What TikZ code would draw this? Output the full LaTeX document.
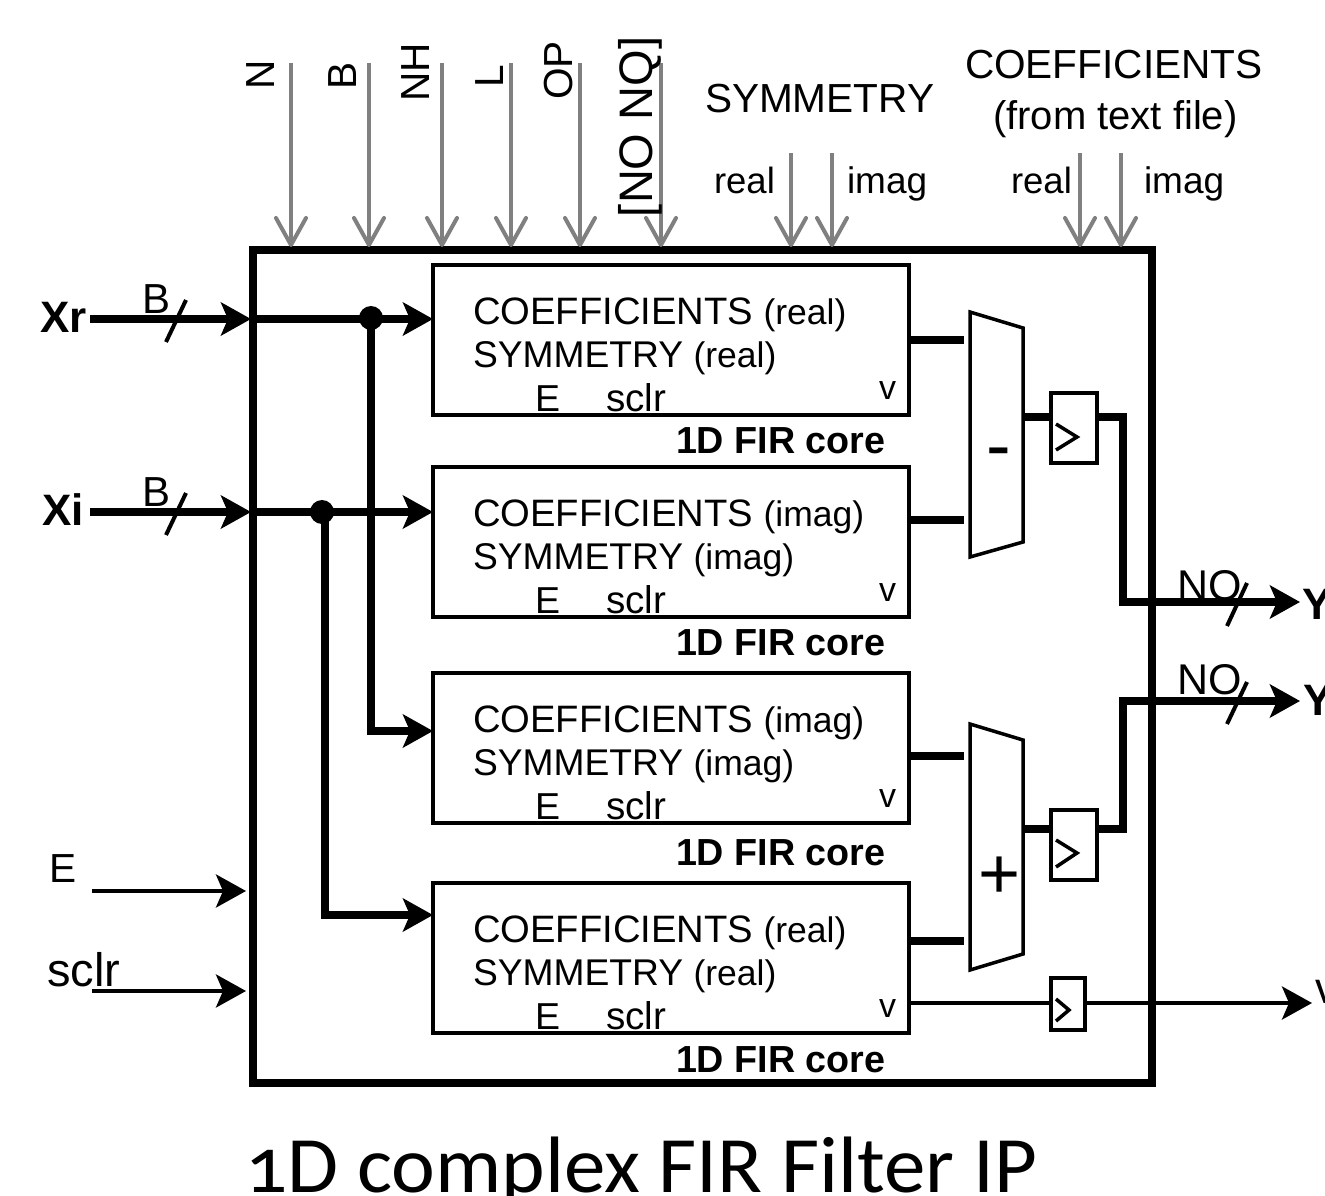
\documentclass[tikz,border=0pt]{standalone}
\usepackage{fontspec}
\setmainfont{Liberation Sans}
\newfontfamily\titlefont[Numbers=OldStyle,FakeStretch=1.037]{Carlito}
\usetikzlibrary{arrows.meta,calc}
\newcommand\sza{\fontsize{37.5}{40}\selectfont}
\newcommand\szb{\fontsize{40.6}{44}\selectfont}
\newcommand\szp{\fontsize{35.5}{40}\selectfont}
\tikzset{
  x=1pt,y=-1pt,
  bigtip/.tip={Stealth[length=30pt,width=33pt,inset=7pt]},
  coreblock/.style={draw=black,line width=3.5pt,minimum width=476pt,minimum height=150pt,inner sep=0pt,outer sep=0pt,rectangle},
  regblock/.style={draw=black,line width=3.5pt,inner sep=0pt,outer sep=0pt,rectangle},
  thinedge/.style={line width=3.5pt,draw=black},
  busedge/.style={line width=8pt,draw=black},
  bustip/.style={line width=8pt,draw=black,-{bigtip}},
  sigtip/.style={line width=4pt,draw=black,-{bigtip}},
  param/.style={line width=4pt,draw=black!50,-{Straight Barb[length=27pt,width=30pt,round]}},
  lab/.style={anchor=base west,inner sep=0pt,outer sep=0pt,font=\szb},
  corelab/.style={anchor=base west,inner sep=0pt,outer sep=0pt,font=\sza},
  vlab/.style={anchor=base west,inner sep=0pt,outer sep=0pt,font=\fontsize{34}{36}\selectfont},
  corename/.style={anchor=base west,inner sep=0pt,outer sep=0pt,font=\fontsize{37.7}{40}\selectfont\bfseries},
  sideparam/.style={anchor=base west,inner sep=0pt,outer sep=0pt,rotate=90,font=\szb},
  boldlab/.style={anchor=base west,inner sep=0pt,outer sep=0pt,font=\fontsize{44}{46}\selectfont\bfseries},
  junction/.style={circle,fill=black,draw=none,minimum size=24pt,inner sep=0pt,outer sep=0pt},
  tick/.style={line width=4pt,draw=black},
}
\begin{document}
\begin{tikzpicture}
\useasboundingbox (0,0) rectangle (1325,1196);
% outer block
\node[draw=black,line width=8pt,minimum width=899pt,minimum height=833pt,inner sep=0pt,outer sep=0pt,rectangle] (ip) at (702.5,666.5) {};
% FIR cores
\node[coreblock] (core1) at (671,340) {};
\node[coreblock] (core2) at (671,542) {};
\node[coreblock] (core3) at (671,748) {};
\node[coreblock] (core4) at (671,958) {};
\foreach \c/\t/\l/\nb in {core1/265/real/453,core2/467/imag/655,core3/673/imag/865,core4/883/real/1072}{
  \node[corelab] (\c a) at (473,\t+59) {{\fontsize{38.2}{40}\selectfont COEFFICIENTS} {\szp(\l)}};
  \node[corelab] (\c b) at (473,\t+102) {{\fontsize{37.2}{40}\selectfont SYMMETRY} {\szp(\l)}};
  \node[corelab] (\c e) at (535,\t+146) {E};
  \node[corelab,font=\fontsize{38.6}{40}\selectfont] (\c s) at (606,\t+146) {sclr};
  \node[vlab] (\c v) at (879,\t+134) {v};
  \node[corename] (\c n) at (676,\nb) {1D FIR core};
}
% muxes
\draw[thinedge,line join=miter] (970,312) -- (1023,328) -- (1023,542) -- (970,557) -- cycle;
\draw[thinedge,line join=miter] (970,724) -- (1023,740) -- (1023,954) -- (970,970) -- cycle;
\node[inner sep=0pt,font=\fontsize{74}{76}\selectfont] (minus) at (999,459) {-};
\node[inner sep=0pt,font=\fontsize{72}{74}\selectfont] (plus) at (999.5,878) {+};
% registers
\node[regblock,minimum width=46pt,minimum height=70pt] (reg1) at (1074,428) {};
\node[regblock,minimum width=46pt,minimum height=70pt] (reg2) at (1074,845) {};
\node[regblock,minimum width=34pt,minimum height=52pt] (reg3) at (1068,1004) {};
\draw[thinedge] (1056,424) -- (1077,437) -- (1056,450);
\draw[thinedge] (1056,840) -- (1077,853) -- (1056,867);
\draw[thinedge] (1056,999) -- (1069,1010) -- (1056,1021);
% free ends
\coordinate (xrin) at (90,319);
\coordinate (xiin) at (90,512);
\coordinate (ein) at (92,891);
\coordinate (sin) at (92,991);
\coordinate (vout) at (1312,1003);
\coordinate (yrout) at (1300,602);
\coordinate (yiout) at (1300,701);
\coordinate (m1a) at (964,340);
\coordinate (m1b) at (964,520);
\coordinate (m2a) at (964,756);
\coordinate (m2b) at (964,941);
\coordinate (m1o) at (1022,417);
\coordinate (m2o) at (1022,829);
\coordinate (c3in) at (371,731);
\coordinate (c4in) at (325,915);
% junctions
\node[junction] (jr) at (371,318) {};
\node[junction] (ji) at (322,512) {};
% buses
\draw[bustip] (xrin) -- ([xshift=-2pt]ip.west |- xrin);
\draw[bustip] (xiin) -- ([xshift=-2pt]ip.west |- xiin);
\draw[bustip] (ip.west |- xrin) -- (core1.west |- xrin);
\draw[bustip] (ip.west |- xiin) -- (core2.west |- xiin);
\draw[busedge] (jr.center) -- (c3in);
\draw[busedge] (ji.center -| c4in) -- (c4in);
\draw[bustip] ([xshift=-4pt]c3in) -- (core3.west |- c3in);
\draw[bustip] ([xshift=-4pt]c4in) -- (core4.west |- c4in);
\draw[busedge] (core1.east |- m1a) -- (m1a);
\draw[busedge] (core2.east |- m1b) -- (m1b);
\draw[busedge] (core3.east |- m2a) -- (m2a);
\draw[busedge] (core4.east |- m2b) -- (m2b);
\draw[busedge] (m1o) -- (reg1.west |- m1o);
\draw[busedge] (m2o) -- (reg2.west |- m2o);
\draw[busedge,line join=miter] (reg1.east |- m1o) -- (1123,417) -- (1123,606);
\draw[bustip] (1123,602) -- (yrout);
\draw[busedge,line join=miter] (reg2.east |- m2o) -- (1123,829) -- (1123,697);
\draw[bustip] (1123,701) -- (yiout);
% thin signals
\draw[sigtip] (ein) -- ([xshift=-7pt]ip.west |- ein);
\draw[sigtip] (sin) -- ([xshift=-7pt]ip.west |- sin);
\draw[tick] (core4.east |- vout) -- (reg3.west |- vout);
\draw[sigtip] (reg3.east |- vout) -- (vout);
% ticks
\draw[tick] (166,342) -- (186,300);
\draw[tick] (166,535) -- (186,493);
\draw[tick] (1227,626) -- (1247,583);
\draw[tick] (1227,724) -- (1247,682);
% parameters
\foreach \n/\x/\y in {pa/291/63,pb/369/63,pc/442/63,pd/511/63,pe/580/63,pf/661/63,pg/791/153,ph/832/153,pi/1080/153,pj/1121/153}{
  \coordinate (\n) at (\x,\y);
  \draw[param] (\n) -- ([yshift=3pt]\n |- ip.north);
}
\node[sideparam] (ln) at (274,90) {N};
\node[sideparam] (lb) at (356,90) {B};
\node[sideparam] (lnh) at (429,102) {NH};
\node[sideparam] (ll) at (503,88) {L};
\node[sideparam] (lop) at (572,100) {OP};
\node[sideparam,font=\fontsize{47}{50}\selectfont] (lno) at (652,217) {[NO NQ]};
\node[lab] (lsym) at (705,113) {SYMMETRY};
\node[lab] (lcoef) at (965,79) {COEFFICIENTS};
\node[lab,font=\fontsize{40}{44}\selectfont] (lfrom) at (993,130) {(from text file)};
\node[corelab,font=\fontsize{36.5}{40}\selectfont] (lr1) at (714,193) {real};
\node[corelab,font=\fontsize{37}{40}\selectfont] (li1) at (847,193) {imag};
\node[corelab,font=\fontsize{36.5}{40}\selectfont] (lr2) at (1011,193) {real};
\node[corelab,font=\fontsize{37}{40}\selectfont] (li2) at (1144,193) {imag};
\node[boldlab] (xr) at (40,332) {Xr};
\node[boldlab] (xi) at (42,525) {Xi};
\node[lab,font=\fontsize{42}{44}\selectfont] (bb1) at (142,313) {B};
\node[lab,font=\fontsize{42}{44}\selectfont] (bb2) at (142,506) {B};
\node[lab] (le) at (49,882) {E};
\node[lab,font=\fontsize{47}{50}\selectfont] (ls) at (47,986) {sclr};
\node[lab,font=\fontsize{43}{46}\selectfont] (no1) at (1177,600) {NO};
\node[lab,font=\fontsize{43}{46}\selectfont] (no2) at (1177,694) {NO};
\node[boldlab] (yr) at (1302,619) {Y};
\node[boldlab] (yi) at (1303,715) {Y};
\node[lab,font=\fontsize{44}{46}\selectfont] (vo) at (1315,1003) {v};
\node[anchor=base west,inner sep=0pt,font=\fontsize{80}{82}\selectfont\titlefont] (title) at (245,1192) {1D complex FIR Filter IP};
\end{tikzpicture}
\end{document}
